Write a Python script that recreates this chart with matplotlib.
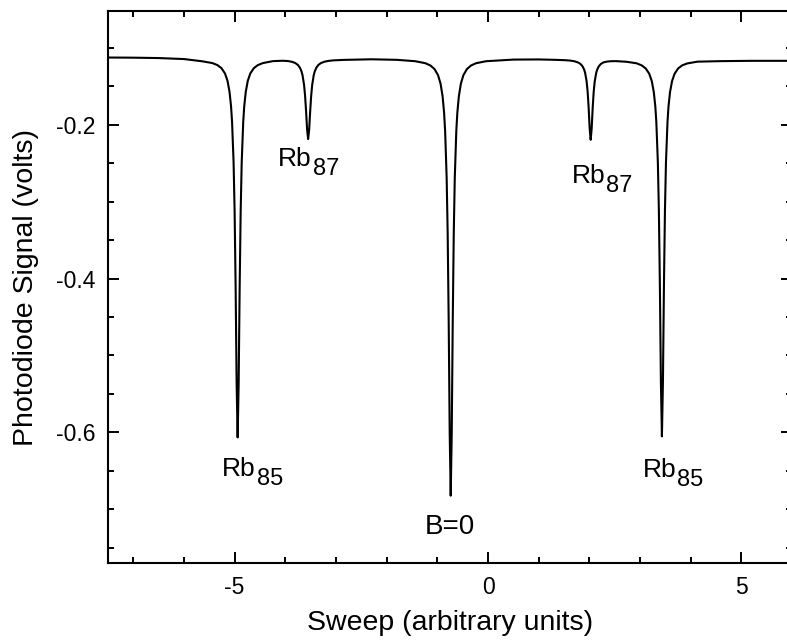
import matplotlib
matplotlib.use("Agg")
import matplotlib.pyplot as plt
from matplotlib.ticker import MultipleLocator, FixedLocator

plt.rcParams["font.family"] = ["Liberation Sans", "DejaVu Sans"]
plt.rcParams["axes.unicode_minus"] = False

# trace (sweep in arb. units, signal in volts)
sweep = [
    -7.50, -7.00, -6.50, -6.00,
    # Rb85 (left)
    -5.641, -5.441, -5.341, -5.261, -5.191, -5.141, -5.101, -5.071, -5.051, -5.021,
    -5.001, -4.981, -4.961, -4.941,
    -4.921, -4.901, -4.881, -4.861, -4.831, -4.811, -4.781, -4.741, -4.691,
    -4.621, -4.541, -4.441,
    -4.245,
    # Rb87 (left)
    -4.05, -3.95, -3.87, -3.80, -3.75, -3.71, -3.68, -3.66, -3.63, -3.61, -3.59,
    -3.57, -3.55,
    -3.53, -3.51, -3.49, -3.47, -3.44, -3.42, -3.39, -3.35, -3.30, -3.23, -3.15,
    -3.05, -2.85,
    -2.30, -1.80,
    # B=0
    -1.436, -1.236, -1.136, -1.056, -0.986, -0.936, -0.896, -0.866, -0.846, -0.816,
    -0.796, -0.776, -0.756, -0.736,
    -0.716, -0.696, -0.676, -0.656, -0.626, -0.606, -0.576, -0.536, -0.486,
    -0.416, -0.336, -0.236, -0.036,
    0.50, 1.00,
    # Rb87 (right)
    1.326, 1.526, 1.626, 1.706, 1.776, 1.826, 1.866, 1.896, 1.916, 1.946, 1.966,
    1.986, 2.006, 2.026,
    2.046, 2.066, 2.086, 2.106, 2.136, 2.156, 2.186, 2.226, 2.276, 2.346, 2.426,
    2.526,
    2.730,
    # Rb85 (right)
    2.932, 3.032, 3.112, 3.182, 3.232, 3.272, 3.302, 3.322, 3.352, 3.372, 3.392,
    3.412, 3.432,
    3.452, 3.472, 3.492, 3.512, 3.542, 3.562, 3.592, 3.632, 3.682, 3.752, 3.832,
    3.932, 4.132,
    4.60, 5.20, 6.00,
]
signal = [
    -0.1125, -0.1127, -0.1132, -0.1145,
    -0.1174, -0.1197, -0.1223, -0.1263, -0.1332, -0.1428, -0.1572, -0.1760, -0.1964, -0.2491,
    -0.3116, -0.4100, -0.5363, -0.6066,
    -0.5363, -0.4100, -0.3116, -0.2491, -0.1964, -0.1760, -0.1572, -0.1428, -0.1332,
    -0.1263, -0.1223, -0.1197,
    -0.1172,
    -0.1167, -0.1171, -0.1180, -0.1198, -0.1223, -0.1260, -0.1307, -0.1357, -0.1482, -0.1623,
    -0.1828, -0.2065, -0.2186,
    -0.2065, -0.1828, -0.1623, -0.1482, -0.1357, -0.1307, -0.1260, -0.1223, -0.1198, -0.1180,
    -0.1169, -0.1162, -0.1156,
    -0.1148, -0.1155,
    -0.1173, -0.1199, -0.1229, -0.1275, -0.1355, -0.1466, -0.1632, -0.1849, -0.2085, -0.2694,
    -0.3417, -0.4552, -0.6012, -0.6824,
    -0.6012, -0.4552, -0.3417, -0.2694, -0.2085, -0.1849, -0.1632, -0.1466, -0.1355,
    -0.1275, -0.1229, -0.1199, -0.1173,
    -0.1152, -0.1150,
    -0.1155, -0.1160, -0.1165, -0.1174, -0.1189, -0.1209, -0.1240, -0.1280, -0.1323, -0.1435,
    -0.1568, -0.1777, -0.2046, -0.2195,
    -0.2046, -0.1777, -0.1568, -0.1435, -0.1323, -0.1280, -0.1240, -0.1209, -0.1189,
    -0.1178, -0.1173, -0.1172,
    -0.1180,
    -0.1200, -0.1227, -0.1267, -0.1336, -0.1432, -0.1575, -0.1762, -0.1966, -0.2491, -0.3114,
    -0.4094, -0.5353, -0.6053,
    -0.5353, -0.4094, -0.3114, -0.2491, -0.1966, -0.1762, -0.1575, -0.1432, -0.1336,
    -0.1267, -0.1227, -0.1202, -0.1179,
    -0.1172, -0.1168, -0.1168,
]

# peak labels: element, isotope subscript, anchor (end of "Rb", on its baseline)
peak_names = ["Rb", "Rb", "Rb", "Rb"]
peak_isotopes = ["85", "87", "87", "85"]
peak_x = [-4.582, -3.477, 2.316, 3.722]
peak_y = [-0.6564, -0.2533, -0.2763, -0.6577]
zero_label = "B=0"
zero_x, zero_y = -0.75, -0.7234

fig = plt.figure(figsize=(7.87, 6.4), dpi=100)
ax = fig.add_axes([0.1372, 0.1203, 0.8692, 0.8625])

ax.plot(sweep, signal, color="black", lw=1.5)

for name, iso, x, y in zip(peak_names, peak_isotopes, peak_x, peak_y):
    ax.text(x, y, name, ha="right", va="baseline", fontsize=19)
    ax.annotate(iso, xy=(x, y), xytext=(0.5, -6.5), textcoords="offset points",
                ha="left", va="baseline", fontsize=17)
ax.text(zero_x, zero_y, zero_label, ha="center", va="center", fontsize=20)

ax.set_xlim(-7.5, 6.0)
ax.set_ylim(-0.77, -0.052)
ax.xaxis.set_major_locator(FixedLocator([-5, 0, 5]))
ax.xaxis.set_minor_locator(MultipleLocator(1))
ax.yaxis.set_major_locator(FixedLocator([-0.6, -0.4, -0.2]))
ax.yaxis.set_minor_locator(MultipleLocator(0.05))
ax.tick_params(which="both", direction="in", top=True, right=True, width=1.4)
ax.tick_params(which="major", length=8, labelsize=16.5)
ax.tick_params(axis="x", which="major", pad=9)
ax.tick_params(axis="y", which="major", pad=9)
ax.tick_params(which="minor", length=4.5)
for s in ax.spines.values():
    s.set_linewidth(1.5)

ax.set_xlabel("Sweep (arbitrary units)", fontsize=20.5, labelpad=8)
ax.set_ylabel("Photodiode Signal (volts)", fontsize=20.5, labelpad=12)

fig.savefig("out.png", dpi=100)
